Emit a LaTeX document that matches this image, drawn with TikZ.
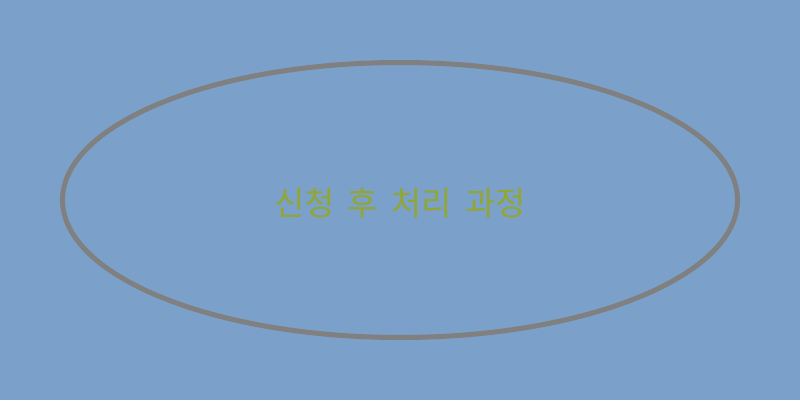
\documentclass[tikz,border=0pt]{standalone}
\usepackage{fontspec}
\newfontfamily\cjk{Noto Sans CJK KR}
\usetikzlibrary{positioning,shapes.geometric}
\definecolor{bgblue}{RGB}{123,161,203}
\definecolor{rimgray}{RGB}{128,128,128}
\definecolor{olivetext}{RGB}{146,166,50}
\tikzset{
	stage/.style={ellipse,draw=rimgray,line width=5pt,minimum width=675pt,minimum height=275pt,
		inner sep=0pt},
	stagetext/.style={text=olivetext,font=\cjk\fontsize{33}{38}\selectfont,inner sep=0pt}
}
\begin{document}
\begin{tikzpicture}[x=1pt,y=1pt]
		\fill[bgblue] (0,0) rectangle (800,400);
		\useasboundingbox (0,0) rectangle (800,400);

		\node[stage] (process) at (400,200) {};
		\node[stagetext] (label) at (400,197) {신청\hspace{13pt}후\hspace{13pt}처리\hspace{13pt}과정};
	\end{tikzpicture}
\end{document}
